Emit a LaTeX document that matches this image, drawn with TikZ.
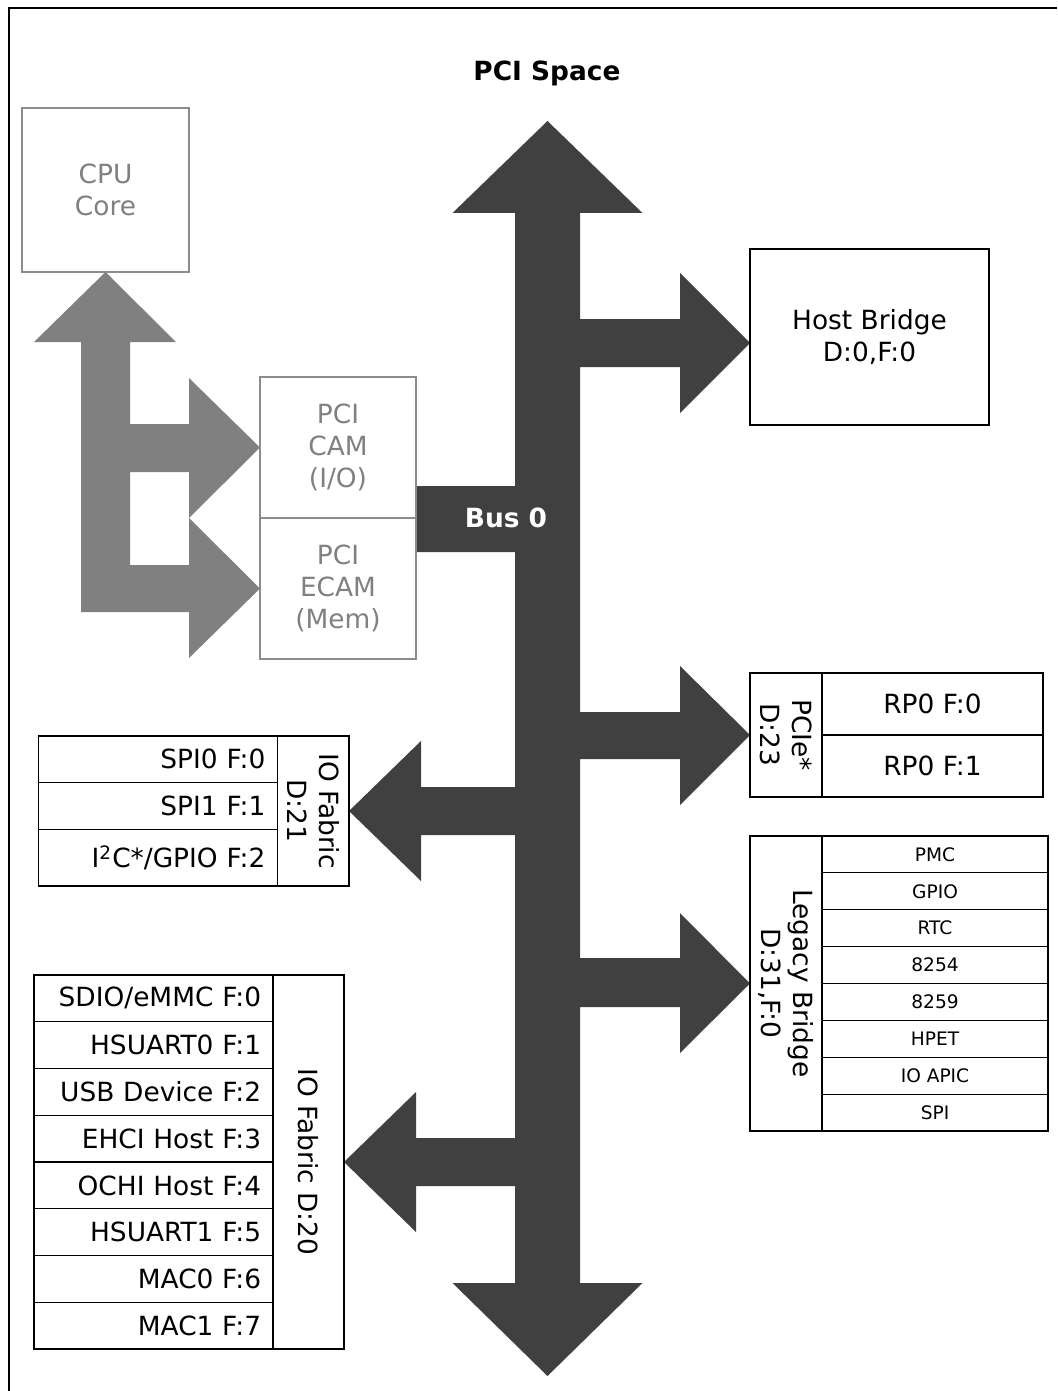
\documentclass[tikz,border=0pt]{standalone}
\usepackage{fontspec}
\setmainfont{DejaVu Sans}
\usetikzlibrary{backgrounds}
\definecolor{pcibus}{RGB}{64,64,64}
\definecolor{pcicpu}{RGB}{128,128,128}
\definecolor{pciline}{RGB}{140,140,140}
\newcommand{\pcifont}{\fontsize{13.2pt}{15.8pt}\selectfont}
\newcommand{\pcismall}{\fontsize{9.3pt}{11pt}\selectfont}

\begin{document}
\begin{tikzpicture}[
    x=0.5pt, y=-0.5pt,
    %% ── node styles ──────────────────────────────────────────────────────────
    block/.style={
        draw=black, line width=0.6pt, outer sep=0pt, inner sep=0pt,
        font=\pcifont, align=center
    },
    faded/.style={block, draw=pciline, text=pcicpu},
    fnrow/.style={
        block, inner xsep=6pt, text width=107.6pt, align=right,
        minimum height=#1
    },
    fnrow/.default=23.375pt,
    rprow/.style={block, minimum width=110.5pt, minimum height=31pt},
    lgrow/.style={block, font=\pcismall, minimum width=113pt, minimum height=18.44pt},
    devlabel/.style={block, rotate=-90},
    %% ── arrow styles ─────────────────────────────────────────────────────────
    busfill/.style={fill=pcibus},
    cpufill/.style={fill=pcicpu, even odd rule},
]
\useasboundingbox (0,0) rectangle (1057,1391);

%% ── Frame and title ──────────────────────────────────────────────────────────
\draw[line width=1pt] (8.5,1391) |- (1057,8);
\node[font=\pcifont\bfseries] (title) at (547,73) {PCI Space};

%% ── CPU side (greyed out) ───────────────────────────────────────────────────
\node[faded, minimum width=83.5pt, minimum height=82pt]  (cpu)  at (105.5,190)  {CPU\\Core};
\node[faded, minimum width=78pt, minimum height=70.5pt]  (cam)  at (338,447.5)  {PCI\\CAM\\(I/O)};
\node[faded, minimum width=78pt, minimum height=70.5pt]  (ecam) at (338,588.5)  {PCI\\ECAM\\(Mem)};

%% ── Host bridge ──────────────────────────────────────────────────────────────
\node[block, minimum width=119.5pt, minimum height=88pt] (host) at (869.5,337) {Host Bridge\\D:0,F:0};

%% ── PCIe root ports ──────────────────────────────────────────────────────────
\node[devlabel, minimum width=62pt, minimum height=36pt] (pcie) at (786,735) {PCIe*\\D:23};
\node[rprow] (rp0) at (932.5,704) {RP0 F:0};
\node[rprow] (rp1) at (932.5,766) {RP0 F:1};

%% ── Legacy bridge ────────────────────────────────────────────────────────────
\node[devlabel, minimum width=147.5pt, minimum height=36pt] (legacy) at (786,983.5) {Legacy Bridge\\D:31,F:0};
\node[lgrow] (pmc)    at (935,854.4)  {PMC};
\node[lgrow] (lgpio)  at (935,891.3)  {GPIO};
\node[lgrow] (rtc)    at (935,928.2)  {RTC};
\node[lgrow] (pit)    at (935,965.1)  {8254};
\node[lgrow] (pic)    at (935,1001.9) {8259};
\node[lgrow] (hpet)   at (935,1038.8) {HPET};
\node[lgrow] (ioapic) at (935,1075.7) {IO APIC};
\node[lgrow] (lspi)   at (935,1112.6) {SPI};

%% ── IO fabric D:21 ───────────────────────────────────────────────────────────
\node[devlabel, minimum width=75pt, minimum height=35.75pt] (fab21) at (313.25,811) {IO Fabric\\D:21};
\node[fnrow=23.25pt] (spi0) at (157.75,759.25) {SPI0 F:0};
\node[fnrow=23.5pt]  (spi1) at (157.75,806)    {SPI1 F:1};
\node[fnrow=28.25pt] (i2c)  at (157.75,857.75) {I\textsuperscript{2}C*/GPIO F:2};

%% ── IO fabric D:20 ───────────────────────────────────────────────────────────
\node[devlabel, minimum width=187pt, minimum height=35.5pt] (fab20) at (308.5,1162) {IO Fabric D:20};
\node[fnrow] (sdio)  at (153.5,998.4)  {SDIO/eMMC F:0};
\node[fnrow] (uart0) at (153.5,1045.1) {HSUART0 F:1};
\node[fnrow] (usbd)  at (153.5,1091.9) {USB Device F:2};
\node[fnrow] (ehci)  at (153.5,1138.6) {EHCI Host F:3};
\node[fnrow] (ochi)  at (153.5,1185.4) {OCHI Host F:4};
\node[fnrow] (uart1) at (153.5,1232.1) {HSUART1 F:5};
\node[fnrow] (mac0)  at (153.5,1278.9) {MAC0 F:6};
\node[fnrow] (mac1)  at (153.5,1325.6) {MAC1 F:7};

%% ─────────────────────────────────────────────────────────────────────────────
%% Block arrows (behind the boxes)
%% ─────────────────────────────────────────────────────────────────────────────
\begin{scope}[on background layer]
  %% CPU core -> CAM / ECAM
  \fill[cpufill] (cpu.south) -- (176,342) -- (130,342) -- (130,424) -- (189,424)
      -- (189,378) -- (cam.west) -- (189,518) -- (ecam.west) -- (189,658)
      -- (189,612) -- (81,612) -- (81,342) -- (34,342) -- cycle
      (130,472) rectangle (189,565);

  %% Bus 0 with its branches
  \fill[busfill] (547.5,121) -- (642.5,213) -- (580,213)
      -- (580,319) -- (680,319) -- (680,273) -- (750,343) -- (680,413) -- (680,367) -- (580,367)
      -- (580,712) -- (680,712) -- (680,666) -- (pcie.south) -- (680,805) -- (680,759) -- (580,759)
      -- (580,958) -- (680,958) -- (680,913) -- (legacy.south) -- (680,1053) -- (680,1007) -- (580,1007)
      -- (580,1283) -- (642.5,1283) -- (547.5,1376) -- (452.5,1283) -- (515,1283)
      -- (515,1186) -- (416,1186) -- (416,1232) -- (fab20.north) -- (416,1092) -- (416,1138) -- (515,1138)
      -- (515,835) -- (421,835) -- (421,881) -- (fab21.north) -- (421,741) -- (421,787) -- (515,787)
      -- (515,552) -- (cam.east |- 0,552) -- (cam.east |- 0,486) -- (515,486)
      -- (515,213) -- (452.5,213) -- cycle;
\end{scope}

\node[font=\pcifont\bfseries, text=white] (bus0) at (506,518) {Bus 0};

\end{tikzpicture}
\end{document}
